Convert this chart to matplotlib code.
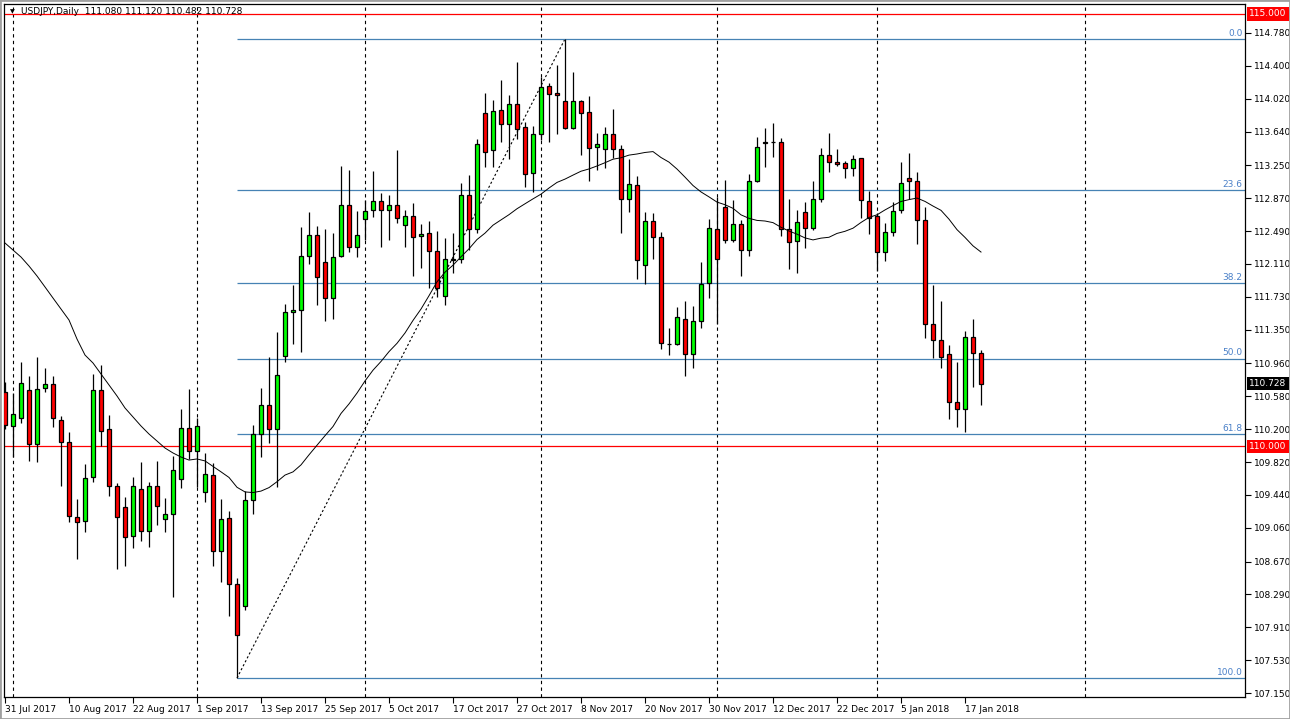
import numpy as np
import pandas as pd
import matplotlib
matplotlib.use("Agg")
import matplotlib.pyplot as plt
from matplotlib.patches import Rectangle

plt.rcParams["font.family"] = "DejaVu Sans"

# USDJPY daily bars, 31 Jul 2017 .. 19 Jan 2018
opens = [
    110.630, 110.237, 110.329, 110.653, 110.029, 110.676, 110.722, 110.306, 110.052, 109.185,
    109.138, 109.647, 110.653, 110.202, 109.543, 109.300, 108.965, 109.508, 109.023, 109.543,
    109.162, 109.219, 109.624, 110.214, 109.948, 109.474, 109.670, 108.792, 109.173, 108.410,
    108.156, 109.381, 110.144, 110.479, 110.202, 111.046, 111.555, 111.578, 112.202, 112.445,
    112.133, 111.716, 112.202, 112.792, 112.306, 112.630, 112.734, 112.838, 112.734, 112.792,
    112.560, 112.665, 112.433, 112.468, 112.260, 111.740, 112.150, 112.168, 112.907, 112.514,
    113.855, 113.427, 113.890, 113.728, 113.959, 113.693, 113.161, 113.612, 114.167, 114.086,
    113.994, 113.682, 113.994, 113.867, 113.462, 113.439, 113.612, 113.439, 112.861, 113.023,
    112.098, 112.607, 112.422, 111.185, 111.185, 111.474, 111.069, 111.451, 111.890, 112.514,
    112.769, 112.387, 112.572, 112.271, 113.069, 113.520, 113.520, 113.520, 112.514, 112.375,
    112.711, 112.526, 112.861, 113.370, 113.289, 113.277, 113.219, 113.335, 112.838, 112.665,
    112.248, 112.479, 112.734, 113.104, 113.069, 112.618, 111.416, 111.231, 111.069, 110.515,
    110.433, 111.266, 111.080]

highs = [
    110.745, 110.618, 110.977, 110.815, 111.034, 110.907, 110.815, 110.352, 110.167, 109.393,
    109.797, 110.838, 110.942, 110.364, 109.578, 109.416, 109.647, 109.820, 109.589, 109.832,
    109.404, 109.890, 110.433, 110.664, 110.329, 109.925, 109.809, 109.393, 109.254, 108.479,
    109.485, 110.248, 110.676, 111.034, 111.323, 111.647, 111.867, 112.537, 112.711, 112.549,
    112.514, 112.468, 113.242, 113.196, 112.723, 112.849, 113.184, 112.930, 112.907, 113.427,
    112.734, 112.815, 112.572, 112.607, 112.491, 112.410, 112.468, 113.046, 113.138, 113.555,
    114.086, 114.005, 114.237, 114.063, 114.445, 113.751, 113.705, 114.271, 114.202, 114.410,
    114.711, 114.329, 114.000, 114.052, 113.624, 113.693, 113.901, 113.485, 113.323, 113.127,
    112.711, 112.699, 112.480, 111.370, 111.612, 111.682, 111.624, 112.133, 112.630, 112.884,
    113.081, 112.849, 112.618, 113.150, 113.578, 113.682, 113.740, 113.566, 112.861, 112.734,
    112.826, 113.069, 113.450, 113.624, 113.439, 113.300, 113.370, 113.340, 112.953, 112.699,
    112.584, 112.826, 113.289, 113.393, 113.173, 112.769, 111.867, 111.682, 111.173, 110.977,
    111.335, 111.474, 111.120]

lows = [
    110.202, 109.878, 110.271, 109.832, 109.820, 110.630, 110.225, 109.543, 109.127, 108.699,
    109.011, 109.589, 110.005, 109.427, 108.584, 108.618, 108.826, 108.907, 108.838, 109.092,
    109.011, 108.260, 109.520, 109.855, 109.531, 109.358, 108.618, 108.433, 108.040, 107.323,
    108.110, 109.219, 109.878, 110.040, 109.531, 110.977, 111.185, 111.092, 112.110, 111.636,
    111.451, 111.474, 112.190, 112.248, 112.190, 112.387, 112.653, 112.306, 112.387, 112.583,
    112.306, 111.971, 112.064, 111.832, 111.728, 111.636, 112.006, 112.121, 112.271, 112.468,
    113.231, 113.231, 113.520, 113.323, 113.555, 113.000, 112.942, 113.543, 113.520, 113.612,
    113.675, 113.675, 113.369, 113.069, 113.196, 113.219, 113.335, 112.468, 112.711, 111.936,
    111.878, 112.168, 111.127, 111.058, 111.175, 110.815, 110.907, 111.370, 111.716, 111.416,
    112.352, 112.364, 111.971, 112.202, 113.060, 113.231, 113.346, 112.433, 112.052, 112.006,
    112.295, 112.503, 112.826, 113.173, 113.243, 113.104, 113.127, 112.642, 112.456, 112.029,
    112.144, 112.433, 112.699, 112.861, 112.341, 111.254, 111.023, 110.907, 110.318, 110.225,
    110.167, 110.688, 110.482]

closes = [
    110.248, 110.375, 110.734, 110.029, 110.664, 110.722, 110.329, 110.052, 109.196, 109.127,
    109.635, 110.653, 110.179, 109.543, 109.185, 108.953, 109.543, 109.023, 109.543, 109.312,
    109.219, 109.728, 110.214, 109.948, 110.237, 109.682, 108.792, 109.162, 108.410, 107.820,
    109.381, 110.144, 110.479, 110.202, 110.826, 111.555, 111.578, 112.202, 112.445, 111.959,
    111.716, 112.190, 112.792, 112.306, 112.445, 112.723, 112.838, 112.734, 112.792, 112.641,
    112.665, 112.422, 112.456, 112.260, 111.832, 112.168, 112.168, 112.907, 112.514, 113.497,
    113.404, 113.878, 113.728, 113.959, 113.670, 113.150, 113.612, 114.156, 114.075, 114.063,
    113.682, 113.994, 113.855, 113.450, 113.497, 113.612, 113.439, 112.861, 113.034, 112.156,
    112.607, 112.422, 111.196, 111.180, 111.497, 111.069, 111.451, 111.878, 112.526, 112.167,
    112.387, 112.572, 112.271, 113.069, 113.462, 113.508, 113.525, 112.514, 112.364, 112.595,
    112.526, 112.861, 113.370, 113.289, 113.266, 113.219, 113.323, 112.849, 112.642, 112.248,
    112.479, 112.722, 113.046, 113.069, 112.618, 111.416, 111.231, 111.034, 110.515, 110.433,
    111.266, 111.080, 110.728]

# 25-period SMA before the window has enough bars
ma_early = [112.352, 112.271, 112.190, 112.086, 111.971, 111.844, 111.716, 111.589,
            111.462, 111.242, 111.057, 110.965, 110.838, 110.711, 110.584, 110.445,
            110.341, 110.237, 110.144, 110.063, 109.982, 109.925, 109.878, 109.843]
ma_period = 25

price_ticks = [114.780, 114.400, 114.020, 113.640, 113.250, 112.870, 112.490, 112.110,
               111.730, 111.350, 110.960, 110.580, 110.200, 109.820, 109.440, 109.060,
               108.670, 108.290, 107.910, 107.530, 107.150]
date_labels = ["31 Jul 2017", "10 Aug 2017", "22 Aug 2017", "1 Sep 2017", "13 Sep 2017",
               "25 Sep 2017", "5 Oct 2017", "17 Oct 2017", "27 Oct 2017", "8 Nov 2017",
               "20 Nov 2017", "30 Nov 2017", "12 Dec 2017", "22 Dec 2017", "5 Jan 2018",
               "17 Jan 2018"]
month_start_bars = [1, 24, 45, 67, 89, 109, 135]
round_levels = [115.0, 110.0]
fib_ratios = [0.0, 23.6, 38.2, 50.0, 61.8, 100.0]

W, H = 1290, 719
fig = plt.figure(figsize=(W / 100, H / 100), dpi=100)
ax = fig.add_axes([4 / W, 1 - 697 / H, 1241 / W, 693 / H])

o = np.array(opens); h = np.array(highs); l = np.array(lows); c = np.array(closes)
n = len(c)
idx = np.arange(n)
up = c >= o

# wicks and bodies
ax.vlines(idx, l, h, color="black", lw=0.9, zorder=3)
bottom = np.minimum(o, c)
height = np.abs(c - o)
ax.bar(idx[up], height[up], bottom=bottom[up], width=0.55, color="#00ff00",
       edgecolor="black", linewidth=0.9, zorder=4)
ax.bar(idx[~up], height[~up], bottom=bottom[~up], width=0.55, color="#ff0000",
       edgecolor="black", linewidth=0.9, zorder=4)

# moving average
ma = pd.Series(c).rolling(ma_period).mean()
ma.iloc[:len(ma_early)] = ma_early
ax.plot(idx, ma, color="black", lw=0.7, zorder=5)

xmax = 155
# month separators
for b in month_start_bars:
    ax.axvline(b, color="black", lw=0.8, ls=(0, (3, 3)), zorder=1)

# round number levels
for lv in round_levels:
    ax.axhline(lv, color="#ff0000", lw=0.9, zorder=2)

# fibonacci retracement
i_lo = int(np.argmin(l)); i_hi = int(np.argmax(h))
p_lo = l[i_lo]; p_hi = h[i_hi]
ax.plot([i_lo, i_hi], [p_lo, p_hi], color="black", lw=0.8, ls=(0, (2, 2)), zorder=2)
for r in fib_ratios:
    lv = p_hi - r / 100 * (p_hi - p_lo)
    ax.hlines(lv, i_lo, xmax, color="#4682b4", lw=0.9, zorder=2)
    ax.text(xmax - 0.3, lv + 0.012, f"{r:.1f}", ha="right", va="bottom",
            color="#4a80c8", fontsize=6.5, zorder=6)

ax.set_xlim(-0.125, xmax)
ax.set_ylim(107.104, 115.115)

# axes / ticks
ax.yaxis.tick_right()
ax.set_yticks(price_ticks)
ax.set_yticklabels([f"{v:.3f}" for v in price_ticks])
ax.tick_params(axis="y", length=4, width=0.8, pad=2.2, labelsize=6.5, colors="black")
ax.set_xticks(idx[::8])
ax.set_xticklabels(date_labels, ha="left")
ax.tick_params(axis="x", length=4, width=0.8, pad=1.5, labelsize=6.5)
for s in ax.spines.values():
    s.set_linewidth(0.9)
    s.set_color("black")

# price boxes on the axis
tr = ax.get_yaxis_transform()
for lv in round_levels:
    ax.text(1.0035, lv, f"{lv:.3f}", transform=tr, ha="left", va="center", color="white",
            fontsize=6.5, clip_on=False, zorder=7,
            bbox=dict(boxstyle="square,pad=0.25", fc="#ff0000", ec="none"))
ax.text(1.0035, c[-1], f"{c[-1]:.3f}", transform=tr, ha="left", va="center", color="white",
        fontsize=6.5, clip_on=False, zorder=7,
        bbox=dict(boxstyle="square,pad=0.25", fc="black", ec="none"))

# header
fig.text(12 / W, 1 - 12 / H, "\u25bc", fontsize=4.5, ha="center", va="center")
fig.text(21 / W, 1 - 12 / H,
         f"USDJPY,Daily  {o[-1]:.3f} {h[-1]:.3f} {l[-1]:.3f} {c[-1]:.3f}",
         fontsize=6.5, ha="left", va="center")

fig.patches.append(Rectangle((0, 0), 1, 1, transform=fig.transFigure, fill=False,
                             ec="#a0a0a0", lw=2))

fig.savefig("out.png", dpi=100)
